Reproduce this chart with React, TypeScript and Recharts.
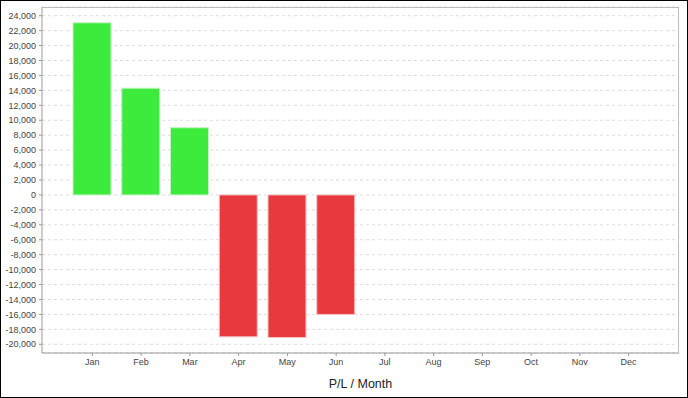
import React from 'react';
import { BarChart, Bar, XAxis, YAxis, CartesianGrid, Cell } from 'recharts';

const months = ['Jan', 'Feb', 'Mar', 'Apr', 'May', 'Jun', 'Jul', 'Aug', 'Sep', 'Oct', 'Nov', 'Dec'];
const profitLoss: (number | null)[] = [23050, 14300, 9000, -19000, -19100, -16000, null, null, null, null, null, null];
const yTicks = [-20000, -18000, -16000, -14000, -12000, -10000, -8000, -6000, -4000, -2000, 0, 2000, 4000, 6000, 8000, 10000, 12000, 14000, 16000, 18000, 20000, 22000, 24000];

const data = months.map((m, i) => ({ month: m, pl: profitLoss[i] }));

const fmt = (v: number) => v.toLocaleString('en-US');

export default function App() {
  return (
    <div
      style={{
        position: 'fixed',
        left: 0,
        top: 0,
        width: 688,
        height: 398,
        boxSizing: 'border-box',
        border: '1px solid #000',
        background: '#fff',
      }}
    >
      <BarChart
        width={686}
        height={396}
        data={data}
        margin={{ top: 6, right: 8, bottom: 0, left: 0 }}
        barSize={38}
      >
        <CartesianGrid vertical={false} stroke="#dcdcdc" strokeDasharray="3 3" />
        <XAxis
          dataKey="month"
          height={44}
          padding={{ left: 26, right: 26 }}
          stroke="#999"
          tickSize={3}
          tickMargin={3}
          tick={{ fontSize: 9, fill: '#444', fontFamily: 'Liberation Sans, Arial, sans-serif' }}
          tickLine={{ stroke: '#999' }}
          label={{
            value: 'P/L / Month',
            position: 'insideBottom',
            offset: 9,
            fontSize: 12.5,
            fill: '#222',
            fontFamily: 'Liberation Sans, Arial, sans-serif',
          }}
        />
        <YAxis
          width={41}
          domain={[-21165, 25165]}
          ticks={yTicks}
          interval={0}
          allowDataOverflow
          stroke="#999"
          tickSize={3}
          tickMargin={3}
          tickFormatter={fmt}
          tick={{ fontSize: 9, fill: '#444', fontFamily: 'Liberation Sans, Arial, sans-serif' }}
          tickLine={{ stroke: '#999' }}
        />
        <Bar dataKey="pl" isAnimationActive={false} strokeWidth={1}>
          {data.map((d, i) => (
            <Cell
              key={i}
              fill={(d.pl ?? 0) >= 0 ? '#3deb3d' : '#e8393f'}
              stroke={(d.pl ?? 0) >= 0 ? '#c6f3c6' : '#f5c4c6'}
            />
          ))}
        </Bar>
      </BarChart>
      <svg
        width={686}
        height={396}
        style={{ position: 'absolute', left: 0, top: 0, pointerEvents: 'none' }}
      >
        <line x1={41} y1={6.5} x2={678} y2={6.5} stroke="#bbb" />
        <line x1={677.5} y1={6} x2={677.5} y2={352} stroke="#bbb" />
      </svg>
    </div>
  );
}
